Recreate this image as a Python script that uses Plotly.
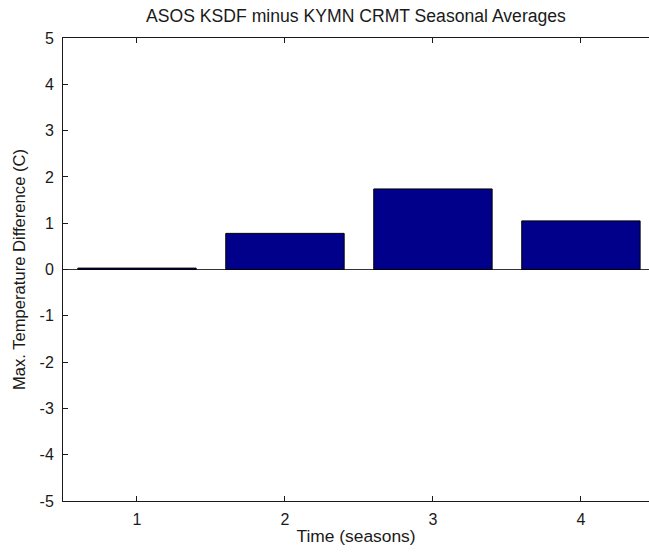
import plotly.graph_objects as go

# Seasonal averages of the maximum-temperature difference (KSDF - KYMN)
seasons = [1, 2, 3, 4]
temp_diff = [0.03, 0.78, 1.74, 1.05]
x_ticks = [1, 2, 3, 4]
y_ticks = [-5, -4, -3, -2, -1, 0, 1, 2, 3, 4, 5]

FONT = "Liberation Sans, Arial, sans-serif"
INK = "#1a1a1a"

fig = go.Figure(
    go.Bar(
        x=seasons,
        y=temp_diff,
        width=0.8,
        marker=dict(color="#00008B", line=dict(color="#000000", width=1)),
    )
)

fig.update_layout(
    width=649,
    height=552,
    margin=dict(l=63, r=0, t=38, b=51),
    paper_bgcolor="white",
    plot_bgcolor="white",
    showlegend=False,
    font=dict(family=FONT, size=16, color=INK),
    title=dict(
        text="ASOS KSDF minus KYMN CRMT Seasonal Averages",
        x=356 / 649,
        xref="container",
        xanchor="center",
        y=1 - 16 / 552,
        yref="container",
        yanchor="middle",
        font=dict(family=FONT, size=17.6, color=INK),
    ),
)

fig.update_xaxes(
    range=[0.5, 4.46],
    tickmode="array",
    tickvals=x_ticks,
    ticktext=[str(v) for v in x_ticks],
    ticks="inside",
    ticklen=5,
    tickwidth=1,
    tickcolor=INK,
    showline=True,
    linecolor=INK,
    linewidth=1,
    mirror="ticks",
    showgrid=False,
    zeroline=False,
    tickfont=dict(size=16, color=INK),
    ticklabelstandoff=4,
    title=dict(text="Time (seasons)", standoff=2, font=dict(size=17.4, color=INK)),
)

fig.update_yaxes(
    range=[-5, 5],
    tickmode="array",
    tickvals=y_ticks,
    ticktext=[str(v) for v in y_ticks],
    ticks="inside",
    ticklen=5,
    tickwidth=1,
    tickcolor=INK,
    showline=True,
    linecolor=INK,
    linewidth=1,
    mirror=False,
    showgrid=False,
    zeroline=True,
    zerolinecolor="#333333",
    zerolinewidth=1,
    tickfont=dict(size=16, color=INK),
    ticklabelstandoff=5,
    title=dict(text="Max. Temperature Difference (C)", standoff=9, font=dict(size=16.6, color=INK)),
)

fig.write_html("out.html")
